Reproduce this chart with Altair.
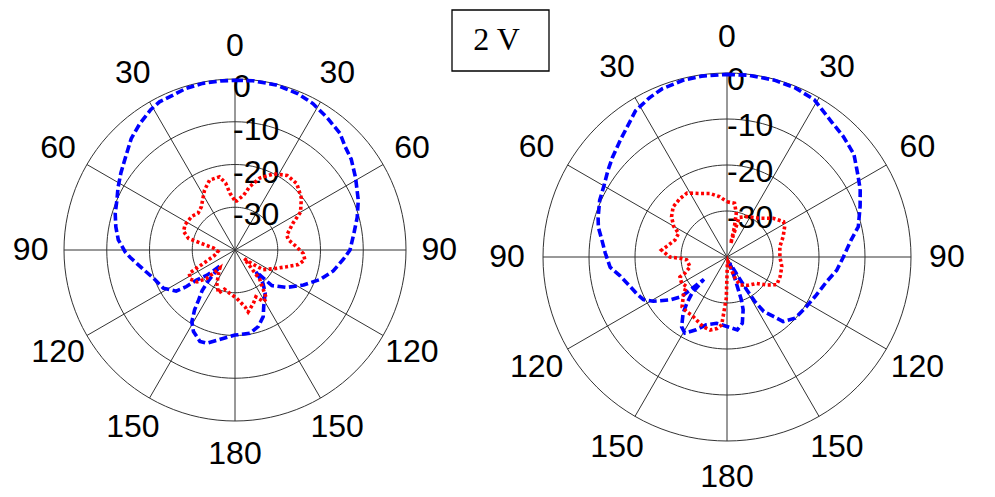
import altair as alt
import pandas as pd

# ---------------- data (angle in degrees clockwise from top, value in dB) -------------
ring_db = [-30, -20, -10, 0]
ring_text = ["-30", "-20", "-10", "0"]
spoke_deg = [0, 30, 60, 90, 120, 150]
tick_deg = [0, 30, 60, 90, 120, 150, 180, 210, 240, 270, 300, 330]
tick_text = ["0", "30", "60", "90", "120", "150", "180", "150", "120", "90", "60", "30"]

left_blue_theta = [0, 6, 14, 22, 28, 35, 42, 47, 52, 59, 68, 75, 82, 90, 95, 102, 109, 117, 126, 134,
                   136, 140, 145, 153, 157, 163, 170, 180, 190, 197, 201, 207, 211, 214, 216, 219, 221,
                   222, 223, 228, 232, 233, 235, 242, 251, 258, 266, 269, 275, 281, 287, 293, 298, 304,
                   310, 317, 323, 329, 333, 338, 343, 349, 355, 360]
left_blue_db = [-0.3, -0.2, -0.2, -0.6, -1.2, -2.3, -3.3, -4.7, -5.5, -7.1, -8.9, -10.4, -11.9, -13.1,
                -14.6, -16.5, -18.9, -22.0, -25.1, -28.0, -32.9, -29.8, -27.7, -25.2, -23.1, -21.3,
                -20.2, -20.1, -18.7, -17.2, -17.1, -18.6, -20.4, -23.1, -25.5, -27.8, -30.6, -33.7,
                -35.0, -31.2, -28.6, -25.8, -23.2, -21.0, -19.8, -18.1, -15.4, -14.3, -12.6, -11.6,
                -10.7, -10.0, -9.0, -7.8, -6.5, -4.4, -3.0, -1.7, -1.1, -1.0, -0.5, -0.3, -0.3, -0.3]

left_red_theta = [0, 2, 9, 13, 19, 27, 35, 43, 52, 60, 65, 74, 79, 87, 93, 98, 103, 108, 116, 125,
                  129, 133, 140, 147, 151, 156, 161, 168, 170, 178, 187, 195, 201, 208, 214, 220, 225,
                  230, 237, 243, 247, 255, 265, 275, 281, 284, 290, 297, 308, 315, 322, 333, 340, 348,
                  352, 355, 360]
left_red_db = [-28.5, -28.5, -27.0, -24.8, -22.2, -20.0, -18.7, -18.8, -20.3, -22.3, -25.0, -27.4,
               -27.3, -25.6, -24.0, -23.5, -24.8, -27.3, -30.0, -32.0, -35.0, -37.0, -31.0, -26.5,
               -26.2, -28.0, -26.8, -25.2, -26.5, -28.7, -29.8, -30.5, -29.2, -31.0, -33.0, -34.5,
               -30.6, -28.4, -27.5, -28.0, -32.0, -35.0, -36.0, -35.0, -32.0, -28.8, -27.2, -26.9,
               -27.2, -27.8, -27.2, -24.3, -22.6, -22.5, -24.2, -26.7, -28.5]

right_blue_theta = [0, 7, 15, 22, 29, 38, 44, 51, 57, 63, 69, 77, 82, 90, 97, 104, 114, 123, 132, 139,
                    142, 146, 148, 149, 150, 152, 156, 159, 160, 161, 161.5, 163, 167, 172, 180, 189,
                    197, 203, 209, 213, 218, 221, 224, 225, 226, 229, 233, 239, 243, 248, 253, 258,
                    260, 265, 272, 278, 283, 287, 294, 300, 306, 311, 318, 322, 328, 334, 339, 346,
                    352, 360]
right_blue_db = [-0.3, -0.2, -0.2, -0.35, -0.9, -2.9, -3.6, -4.5, -6.2, -7.5, -9.0, -10.7, -12.7,
                 -14.7, -16.0, -17.7, -19.0, -19.7, -20.1, -21.4, -23.6, -25.7, -28.7, -31.7, -35.0,
                 -37.5, -38.5, -37.0, -34.7, -32.4, -30.1, -28.0, -25.2, -24.0, -24.9, -25.4, -24.6,
                 -22.8, -21.1, -21.9, -24.5, -26.7, -29.0, -31.5, -33.0, -26.9, -24.5, -21.3, -19.6,
                 -18.8, -18.0, -16.9, -16.4, -14.5, -13.5, -12.5, -11.3, -10.7, -9.7, -9.1, -8.0,
                 -7.0, -5.5, -4.5, -2.5, -1.5, -0.8, -0.4, -0.3, -0.3]

right_red_theta = [0, 8, 12, 14, 15.5, 17, 26, 40, 50, 58, 62, 70, 79, 90, 100, 110, 119, 125, 132,
                   143, 155, 159, 163, 170, 177, 181, 184.5, 188, 193, 199, 206, 211, 216, 222, 230,
                   234, 240, 247, 249, 255, 266, 268, 270, 276, 280, 288, 296, 300, 306, 313, 321,
                   328, 337, 345, 353, 360]
right_red_db = [-28.0, -28.2, -30.3, -33.5, -37.0, -31.0, -30.2, -29.0, -26.9, -25.5, -25.8, -27.0,
                -28.3, -28.5, -27.9, -27.7, -27.6, -29.4, -31.4, -32.3, -33.3, -35.0, -37.8, -39.0,
                -38.5, -31.0, -25.2, -24.3, -23.7, -24.0, -24.8, -25.2, -25.2, -25.4, -27.7, -29.1,
                -28.6, -28.9, -30.2, -31.7, -31.2, -30.1, -27.6, -25.7, -26.7, -28.1, -28.3, -26.6,
                -25.1, -24.0, -23.7, -23.6, -25.0, -25.7, -26.8, -28.0]

box_text = "2 V"

# ---------------- helpers -------------
LABEL_R = 47.8
FONT = "Liberation Sans"
FSIZE = 32

calc_x = "(datum.db + 40) * sin(datum.theta * PI / 180)"
calc_y = "(datum.db + 40) * cos(datum.theta * PI / 180)"

ring_rows = [{"ring": d, "theta": a, "db": d, "i": a} for d in ring_db for a in range(0, 361, 3)]
spoke_rows = []
for a in spoke_deg:
    spoke_rows.append({"spoke": a, "theta": a, "db": 0, "i": 0})
    spoke_rows.append({"spoke": a, "theta": a + 180, "db": 0, "i": 1})
tick_df = pd.DataFrame({"theta": tick_deg, "label": tick_text, "rr": LABEL_R})
rlab_df = pd.DataFrame({"db": ring_db, "label": ring_text})


def trace_df(t, d):
    return pd.DataFrame({"theta": t, "db": d, "i": list(range(len(t)))})


def panel(bt, bd, rt, rd, w, h, xdom, ydom, rl_dx, rl_dy, extra=()):
    X = alt.X("px:Q", scale=alt.Scale(domain=xdom, nice=False, zero=False), axis=None)
    Y = alt.Y("py:Q", scale=alt.Scale(domain=ydom, nice=False, zero=False), axis=None)

    rings = alt.Chart(pd.DataFrame(ring_rows)).mark_line(
        color="#333333", strokeWidth=1
    ).transform_calculate(px=calc_x, py=calc_y).encode(x=X, y=Y, detail="ring:N", order="i:Q")

    spokes = alt.Chart(pd.DataFrame(spoke_rows)).mark_line(
        color="#333333", strokeWidth=1
    ).transform_calculate(px=calc_x, py=calc_y).encode(x=X, y=Y, detail="spoke:N", order="i:Q")

    alab = alt.Chart(tick_df).mark_text(
        font=FONT, fontSize=FSIZE, color="black", align="center", baseline="middle"
    ).transform_calculate(
        px="datum.rr * sin(datum.theta * PI / 180)",
        py="datum.rr * cos(datum.theta * PI / 180)",
    ).encode(x=X, y=Y, text="label:N")

    rlab = alt.Chart(rlab_df).mark_text(
        font=FONT, fontSize=FSIZE, color="black", align="left", baseline="middle", dx=rl_dx, dy=rl_dy
    ).transform_calculate(px="0", py="datum.db + 40").encode(x=X, y=Y, text="label:N")

    blue = alt.Chart(trace_df(bt, bd)).mark_line(
        color="#0000ff", strokeWidth=3.6, strokeDash=[8, 3.5]
    ).transform_calculate(px=calc_x, py=calc_y).encode(x=X, y=Y, order="i:Q")

    red = alt.Chart(trace_df(rt, rd)).mark_line(
        color="#ff0000", strokeWidth=3.6, strokeDash=[3, 2.5]
    ).transform_calculate(px=calc_x, py=calc_y).encode(x=X, y=Y, order="i:Q")

    layers = [rings, spokes, alab, rlab, blue, red] + list(extra)
    return alt.layer(*layers).properties(width=w, height=h)


# left: center (235,250) px, 4.275 px per dB
s1 = 4.275
left = panel(left_blue_theta, left_blue_db, left_red_theta, left_red_db,
             470, 497, [-235 / s1, 235 / s1], [-247 / s1, 250 / s1], -2, 8)

# right: center (237,257) px within panel, 4.6 px per dB
s2 = 4.6
one = pd.DataFrame({"k": [0]})
box = alt.Chart(one).mark_rect(fillOpacity=0, stroke="black", strokeWidth=1.3).encode(
    x=alt.value(-38), x2=alt.value(59), y=alt.value(10), y2=alt.value(71))
box_label = alt.Chart(one).mark_text(
    text=box_text, font="Liberation Serif", fontSize=32, color="black", align="center", baseline="middle"
).encode(x=alt.value(6.5), y=alt.value(40))

right = panel(right_blue_theta, right_blue_db, right_red_theta, right_red_db,
              505, 497, [-237 / s2, 268 / s2], [-240 / s2, 257 / s2], 0, 7, extra=(box, box_label))

chart = alt.hconcat(left, right, spacing=20, bounds="flush").properties(
    padding=0, background="white"
).configure_view(stroke=None)

chart.save("out.html", embed_options={"renderer": "svg", "actions": False})
